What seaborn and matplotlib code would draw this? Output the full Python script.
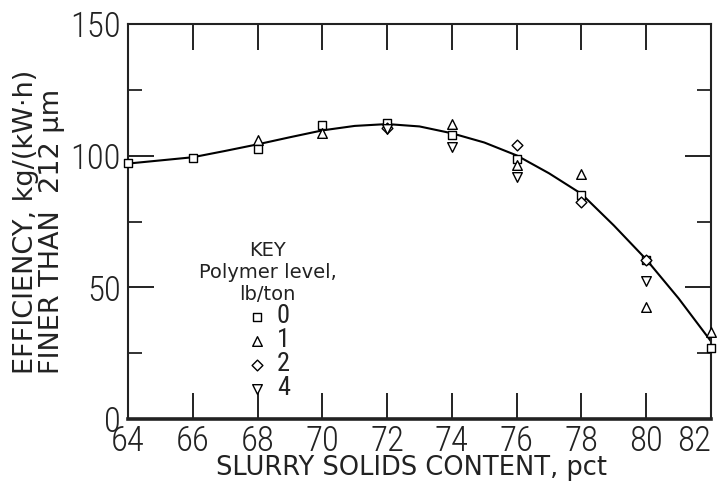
import matplotlib
matplotlib.use("Agg")
import matplotlib.pyplot as plt
from matplotlib import font_manager
from matplotlib.ticker import MultipleLocator
import seaborn as sns
import pandas as pd

# ---------------- data ----------------
x_sq = [64, 66, 68, 70, 72, 74, 76, 78, 80, 82]
y_sq = [97.1, 99.3, 102.7, 111.6, 112.5, 108.0, 98.9, 84.9, 60.4, 27.1]
x_tu = [68, 70, 74, 76, 78, 80, 82]
y_tu = [106.1, 108.6, 112.2, 96.5, 93.1, 42.6, 32.9]
x_di = [72, 76, 78, 80]
y_di = [110.5, 103.9, 82.4, 60.4]
x_td = [72, 74, 76, 80]
y_td = [110.0, 103.4, 91.9, 52.5]

curve_x = [64, 65, 66, 67, 68, 69, 70, 71, 72, 73, 74, 75, 76, 77, 78, 79, 80, 81, 82]
curve_y = [97.0, 98.2, 99.4, 101.8, 104.3, 107.0, 109.6, 111.3, 112.0, 111.1,
           108.5, 105.0, 100.1, 93.3, 85.5, 73.5, 60.6, 45.8, 29.5]

levels = ["0", "1", "2", "4"]
x_ticks = [64, 66, 68, 70, 72, 74, 76, 78, 80, 82]
y_ticks = [0, 50, 100, 150]

# ---------------- style ----------------
sns.set_theme(style="ticks")
avail = {f.name for f in font_manager.fontManager.ttflist}
tick_font = "DejaVu Sans"
for cand in ["Liberation Sans Narrow", "Roboto Condensed", "Roboto", "Liberation Sans"]:
    if cand in avail:
        tick_font = cand
        break
plt.rcParams["font.family"] = ["DejaVu Sans"]
INK = "#222222"

fig = plt.figure(figsize=(7.25, 4.83), dpi=100)
ax = fig.add_axes([128 / 725, 1 - 419 / 483, (711 - 128) / 725, (419 - 24) / 483])

sns.lineplot(x=curve_x, y=curve_y, ax=ax, color="black", linewidth=1.5, zorder=2)

series = [(x_sq, y_sq, "s", 34), (x_tu, y_tu, "^", 48), (x_di, y_di, "D", 30), (x_td, y_td, "v", 48)]
for (xs, ys, mk, sz), lab in zip(series, levels):
    df = pd.DataFrame({"x": xs, "y": ys})
    sns.scatterplot(data=df, x="x", y="y", ax=ax, marker=mk, s=sz,
                    facecolor="white", edgecolor="black", linewidth=1.0,
                    label=lab, clip_on=False, zorder=3)

ax.set_xlim(64, 82)
ax.set_ylim(0, 150)
ax.set_xticks(x_ticks)
ax.set_yticks(y_ticks)
ax.yaxis.set_minor_locator(MultipleLocator(25))

for lab in ax.get_xticklabels() + ax.get_yticklabels():
    lab.set_fontfamily(tick_font)
    lab.set_fontweight("light")
    lab.set_fontsize(25)
    lab.set_color(INK)

# keep the last x tick label inside the figure
ax.get_xticklabels()[-1].set_horizontalalignment("right")

ax.tick_params(axis="both", which="major", direction="in", length=19, width=1.4,
               top=True, right=True, color=INK)
ax.tick_params(axis="x", which="major", pad=4)
ax.tick_params(axis="y", which="major", pad=5)
ax.tick_params(axis="y", which="minor", direction="in", length=10, width=1.3,
               left=True, right=True, color=INK)

for side in ["left", "right", "top"]:
    ax.spines[side].set_linewidth(1.5)
    ax.spines[side].set_color(INK)
ax.spines["bottom"].set_linewidth(2.6)
ax.spines["bottom"].set_color(INK)

ax.set_xlabel("SLURRY SOLIDS CONTENT, pct", fontsize=18.5, color=INK, labelpad=0)
ax.xaxis.set_label_coords(0.486, -0.092)
ax.set_ylabel("EFFICIENCY, kg/(kW·h)\nFINER THAN  212 μm", fontsize=19.5,
              color=INK, multialignment="left", linespacing=1.0)
ax.yaxis.set_label_coords(-0.108, 0.5)

leg = ax.legend(title="KEY\nPolymer level,\nlb/ton", frameon=False,
                loc="upper left", bbox_to_anchor=(0.105, 0.475),
                fontsize=17, title_fontsize=14, handletextpad=0.35,
                labelspacing=0.0, borderaxespad=0, markerscale=1.0,
                handlelength=1.0)
leg.get_title().set_multialignment("center")
leg.get_title().set_color(INK)
for t in leg.get_texts():
    t.set_color(INK)
    t.set_fontfamily(tick_font)
    t.set_fontsize(19)

fig.savefig("out.png", dpi=100)
